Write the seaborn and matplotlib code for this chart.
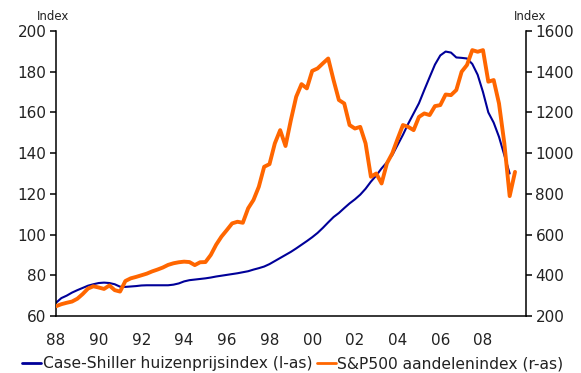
import numpy as np
import pandas as pd
import matplotlib
matplotlib.use("Agg")
import matplotlib.pyplot as plt
import seaborn as sns

# Quarterly observations, 1988Q1 onwards
house_index = [
    66.5, 68.8, 70.0, 71.5, 72.7, 73.8, 74.9, 75.6, 76.2, 76.4,
    76.2, 75.6, 74.4, 74.3, 74.5, 74.7, 75.0, 75.1, 75.1, 75.1,
    75.1, 75.1, 75.4, 76.0, 77.0, 77.6, 77.9, 78.2, 78.5, 78.9,
    79.4, 79.8, 80.2, 80.6, 81.0, 81.5, 82.0, 82.8, 83.5, 84.3,
    85.5, 87.0, 88.5, 90.0, 91.5, 93.2, 95.0, 96.8, 98.7, 100.8,
    103.3, 106.0, 108.6, 110.6, 113.0, 115.3, 117.3, 119.6, 122.5, 126.0,
    129.0, 132.5, 135.5, 139.0, 144.0, 149.0, 154.5, 159.5, 164.5, 171.0,
    177.3, 183.5, 188.0, 189.9, 189.4, 187.0, 186.8, 186.5, 183.8, 178.5,
    170.0, 160.0, 155.0, 148.0, 139.0, 130.0,
]
sp500_index = [
    248, 258, 265, 271, 285, 308, 335, 346, 340, 333,
    350, 327, 320, 372, 385, 392, 400, 408, 419, 428,
    438, 451, 459, 464, 467, 465, 450, 464, 465, 500,
    550, 590, 622, 655, 663, 658, 729, 770, 835, 933,
    946, 1048, 1113, 1035, 1162, 1277, 1339, 1318, 1404, 1416,
    1441, 1465, 1359, 1261, 1244, 1138, 1121, 1129, 1048, 884,
    900, 851, 950, 999, 1070, 1138, 1129, 1113, 1178, 1195,
    1187, 1231, 1236, 1288, 1285, 1310, 1400, 1433, 1506, 1498,
    1506, 1351, 1359, 1244, 1048, 789, 908,
]
year_ticks = [1988, 1990, 1992, 1994, 1996, 1998, 2000, 2002, 2004, 2006, 2008]
year_labels = ["88", "90", "92", "94", "96", "98", "00", "02", "04", "06", "08"]
left_ticks = [60, 80, 100, 120, 140, 160, 180, 200]
right_ticks = [200, 400, 600, 800, 1000, 1200, 1400, 1600]

house_label = "Case-Shiller huizenprijsindex (l-as)"
sp_label = "S&P500 aandelenindex (r-as)"

quarters = pd.period_range("1988Q1", periods=len(sp500_index), freq="Q")
t = quarters.year + (quarters.quarter - 1) / 4.0
df_house = pd.DataFrame({"t": t[:len(house_index)], "v": house_index})
df_sp = pd.DataFrame({"t": t, "v": sp500_index})

sns.set_theme(style="white")
plt.rcParams["font.family"] = ["DejaVu Sans"]

fig = plt.figure(figsize=(5.81, 3.73), dpi=100)
ax = fig.add_axes([0.0964, 0.1528, 0.8084, 0.7641])
ax2 = ax.twinx()

blue = "#000099"
orange = "#FF6600"
txt = "#222222"

sns.lineplot(data=df_house, x="t", y="v", ax=ax, color=blue, lw=1.5, label=house_label, legend=False)
sns.lineplot(data=df_sp, x="t", y="v", ax=ax2, color=orange, lw=2.8, label=sp_label, legend=False)

ax.set_xlim(1988, 2010)
ax.set_ylim(60, 200)
ax2.set_ylim(200, 1600)
ax.set_xticks(year_ticks)
ax.set_xticklabels(year_labels)
ax.set_yticks(left_ticks)
ax2.set_yticks(right_ticks)
ax.set_xlabel("")
ax.set_ylabel("")
ax2.set_ylabel("")

for a in (ax, ax2):
    a.grid(False)
    a.spines["top"].set_visible(False)
    for s in ("left", "right", "bottom"):
        a.spines[s].set_color("black")
        a.spines[s].set_linewidth(1.1)
ax.spines["right"].set_visible(False)
ax2.spines["left"].set_visible(False)
ax2.spines["bottom"].set_visible(False)

ax.tick_params(axis="both", direction="out", length=4, width=1.1, color="black",
               labelsize=11, labelcolor=txt, pad=3)
ax.tick_params(axis="x", pad=8)
ax.tick_params(axis="y", left=True, pad=3)
ax2.tick_params(axis="y", direction="out", length=4, width=1.1, color="black",
                labelsize=11, labelcolor=txt, right=True, pad=3)

fig.text(0.091, 0.955, "Index", fontsize=8.5, color=txt, ha="center", va="center")
fig.text(0.912, 0.955, "Index", fontsize=8.5, color=txt, ha="center", va="center")

h1, l1 = ax.get_legend_handles_labels()
h2, l2 = ax2.get_legend_handles_labels()
leg = fig.legend(h1 + h2, l1 + l2, loc="center", bbox_to_anchor=(0.504, 0.025),
                 ncol=2, frameon=False, fontsize=11.2, handlelength=1.2,
                 handletextpad=0.1, columnspacing=0.3, borderpad=0)
for line in leg.get_lines():
    line.set_linewidth(2.0)
for text in leg.get_texts():
    text.set_color(txt)

fig.savefig("out.png", dpi=100)
